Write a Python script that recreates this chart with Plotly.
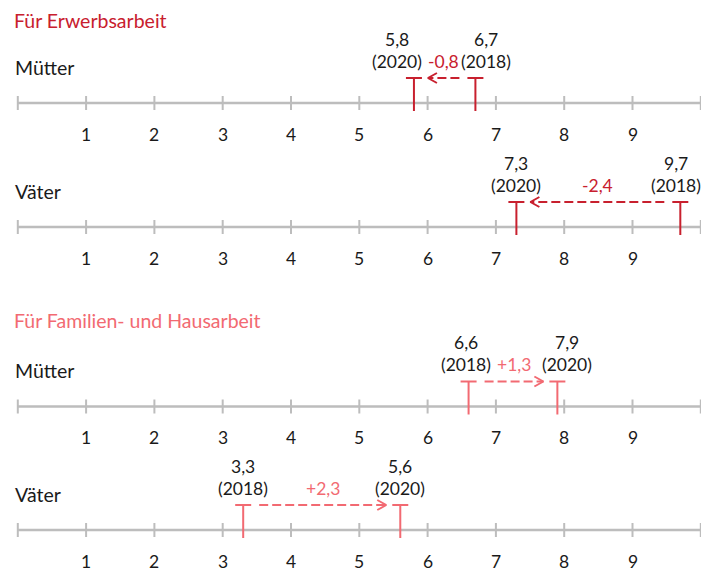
import plotly.graph_objects as go

# ---------------- data ----------------
sections = ["Für Erwerbsarbeit", "Für Familien- und Hausarbeit"]
rows = ["Mütter", "Väter", "Mütter", "Väter"]
row_section = [0, 0, 1, 1]
val_2018 = [6.7, 9.7, 6.6, 3.3]
val_2020 = [5.8, 7.3, 7.9, 5.6]
diff_labels = ["-0,8", "-2,4", "+1,3", "+2,3"]
year_start = "2018"
year_end = "2020"
tick_vals = [0, 1, 2, 3, 4, 5, 6, 7, 8, 9, 10]
tick_labels = ["", "1", "2", "3", "4", "5", "6", "7", "8", "9", ""]

# ---------------- layout / style ----------------
PAGE_W, PAGE_H = 709, 571
OFF = 8                      # default page body margin
W, H = PAGE_W - OFF, PAGE_H - OFF
U = 68.3          # px per unit
X0 = 17.8         # page px position of value 0
bases = [103, 227, 406.5, 530]
section_y = [17, 320]
section_colors = ["#c8202e", "#f26a72"]
gray = "#bdbdbd"
txt = "#1a1a1a"
FONT = "Lato"
LEFT = (13 - OFF) / W
# per-label horizontal shifts (px) to keep labels clear of arrows
shift_2018 = [11, -4, -3, 0]
shift_2020 = [-17, 0, 10, 0]

def px(p):
    return p / U

fig = go.Figure()
annotations = []

for i, base in enumerate(bases):
    col = section_colors[row_section[i]]
    # axis line
    fig.add_trace(go.Scatter(x=[tick_vals[0], tick_vals[-1]], y=[base, base], mode="lines",
                             line=dict(color=gray, width=2.5), hoverinfo="skip"))
    # tick marks
    tx, ty = [], []
    for t in tick_vals:
        tx += [t, t, None]
        ty += [base - 7, base + 7, None]
    fig.add_trace(go.Scatter(x=tx, y=ty, mode="lines", line=dict(color=gray, width=2),
                             hoverinfo="skip"))
    # tick labels
    for t, lab in zip(tick_vals, tick_labels):
        if lab:
            annotations.append(dict(x=t, y=base + 31, xref="x", yref="y", text=lab,
                                    showarrow=False, font=dict(family=FONT, size=17.5, color=txt),
                                    xanchor="center", yanchor="middle"))
    # row label
    annotations.append(dict(x=LEFT, y=base - 36, xref="paper", yref="y", text=rows[i],
                            showarrow=False, font=dict(family=FONT, size=19.5, color=txt),
                            xanchor="left", yanchor="middle"))
    # value markers (T shapes)
    for v in (val_2018[i], val_2020[i]):
        fig.add_trace(go.Scatter(x=[v, v, None, v - px(8), v + px(8)],
                                 y=[base - 25, base + 8, None, base - 25, base - 25],
                                 mode="lines", line=dict(color=col, width=2), hoverinfo="skip"))
    # arrow
    a, b = val_2018[i], val_2020[i]
    d = 1 if b > a else -1
    xs = a + d * px(16)
    xe = b - d * px(14)
    ya = base - 25
    fig.add_trace(go.Scatter(x=[xs, xe], y=[ya, ya], mode="lines",
                             line=dict(color=col, width=2, dash="9px,4px"), hoverinfo="skip"))
    fig.add_trace(go.Scatter(x=[xe - d * px(9), xe, xe - d * px(9)], y=[ya - 5, ya, ya + 5],
                             mode="lines", line=dict(color=col, width=2), hoverinfo="skip"))
    # difference label
    annotations.append(dict(x=(xs + xe) / 2, y=base - 42, xref="x", yref="y", text=diff_labels[i],
                            showarrow=False, font=dict(family=FONT, size=17.5, color=col),
                            xanchor="center", yanchor="middle"))
    # value labels
    for v, yr, sh in ((a, year_start, shift_2018[i]), (b, year_end, shift_2020[i])):
        vs = f"{v:.1f}".replace(".", ",")
        annotations.append(dict(x=v, y=base - 64, xref="x", yref="y", text=vs, xshift=sh,
                                showarrow=False, font=dict(family=FONT, size=17.5, color=txt),
                                xanchor="center", yanchor="middle"))
        annotations.append(dict(x=v, y=base - 42, xref="x", yref="y", text=f"({yr})", xshift=sh,
                                showarrow=False, font=dict(family=FONT, size=17.5, color=txt),
                                xanchor="center", yanchor="middle"))

for s, (name, y) in enumerate(zip(sections, section_y)):
    annotations.append(dict(x=LEFT, y=max(y, OFF + 12.5), xref="paper", yref="y", text=name,
                            showarrow=False, font=dict(family=FONT, size=19.5, color=section_colors[s]),
                            xanchor="left", yanchor="middle", borderpad=0))

fig.update_layout(
    width=W, height=H,
    margin=dict(l=0, r=0, t=0, b=0),
    paper_bgcolor="white", plot_bgcolor="white",
    showlegend=False, hovermode=False,
    xaxis=dict(range=[(OFF - X0) / U, (OFF + W - X0) / U], visible=False, fixedrange=True),
    yaxis=dict(range=[OFF + H, OFF], visible=False, fixedrange=True),
    annotations=annotations,
)

fig.write_html("out.html")
